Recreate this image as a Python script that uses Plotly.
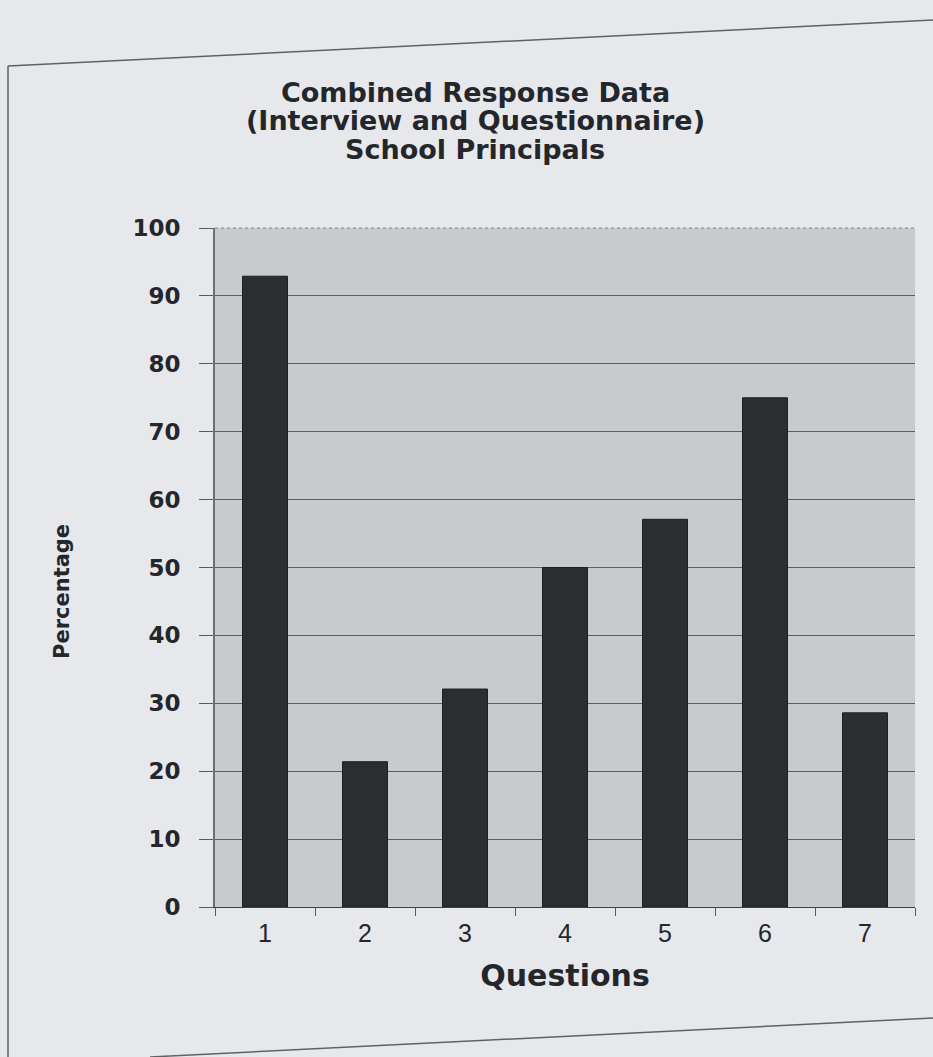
import plotly.graph_objects as go

# Survey results: share of principals responding per question
questions = ["1", "2", "3", "4", "5", "6", "7"]
percentages = [92.9, 21.4, 32.1, 50.0, 57.1, 75.0, 28.6]
y_ticks = [0, 10, 20, 30, 40, 50, 60, 70, 80, 90, 100]

title_lines = ["Combined Response Data", "(Interview and Questionnaire)", "School Principals"]

TEXT = "#23272b"
WIDE = "DejaVu Sans, Verdana, sans-serif"
ARIAL = "Liberation Sans, Arial, sans-serif"

W, H = 933, 1057
ML, MR, MT, MB = 215, 18, 228, 150
PW, PH = W - ML - MR, H - MT - MB


def paper(x, y):
    """Pixel position on the page -> paper coordinates."""
    return (x - ML) / PW, (H - y - MB) / PH


fig = go.Figure()
fig.add_trace(go.Bar(
    x=questions,
    y=percentages,
    marker=dict(color="#2b2d2e", line=dict(color="#1e2021", width=1)),
    width=0.45,
    hoverinfo="x+y",
))

fig.update_layout(
    width=W,
    height=H,
    paper_bgcolor="#e7e8ec",
    plot_bgcolor="#c8cbcd",
    margin=dict(l=ML, r=MR, t=MT, b=MB),
    showlegend=False,
    font=dict(family=ARIAL, color=TEXT),
    xaxis=dict(
        type="category",
        tickson="boundaries",
        ticks="outside",
        ticklen=8,
        tickcolor="#555a5e",
        tickfont=dict(size=25, color=TEXT, family=ARIAL),
        ticklabelstandoff=4,
        showgrid=False,
        showline=True,
        linecolor="#3c4043",
        linewidth=1,
        title=dict(text="<b>Questions</b>", font=dict(size=30, color=TEXT, family=WIDE), standoff=18),
    ),
    yaxis=dict(
        range=[0, 100],
        tickvals=y_ticks,
        ticks="outside",
        ticklen=14,
        tickcolor="#555a5e",
        tickfont=dict(size=23, color=TEXT, family=WIDE, weight="bold"),
        ticklabelstandoff=14,
        showgrid=True,
        gridcolor="#56626b",
        gridwidth=1,
        showline=True,
        linecolor="#6b6f72",
        linewidth=2,
        zeroline=False,
    ),
)

# Three-line chart title, placed line by line
for text, yc in zip(title_lines, [92, 121, 150]):
    x, y = paper(475, yc)
    fig.add_annotation(
        text="<b>" + text + "</b>", x=x, y=y, xref="paper", yref="paper",
        showarrow=False, font=dict(size=27, color=TEXT, family=WIDE),
        xanchor="center", yanchor="middle",
    )

# Vertical axis title
x, y = paper(62, 592)
fig.add_annotation(
    text="<b>Percentage</b>", x=x, y=y, xref="paper", yref="paper",
    showarrow=False, textangle=-90,
    font=dict(size=21, color=TEXT, family=WIDE),
    xanchor="center", yanchor="middle",
)

# Dotted top edge of the plotting area
fig.add_shape(type="line", xref="paper", yref="paper", x0=0, x1=1, y0=1, y1=1,
              line=dict(color="#7d8184", width=1, dash="dot"))

# Page frame around the chart
for (xa, ya), (xb, yb) in [((8, 66), (933, 20)), ((8, 66), (8, 1057)), ((150, 1057), (933, 1018))]:
    x0, y0 = paper(xa, ya)
    x1, y1 = paper(xb, yb)
    fig.add_shape(type="line", xref="paper", yref="paper", x0=x0, y0=y0, x1=x1, y1=y1,
                  line=dict(color="#5e6266", width=1.5))

fig.write_html("out.html")
